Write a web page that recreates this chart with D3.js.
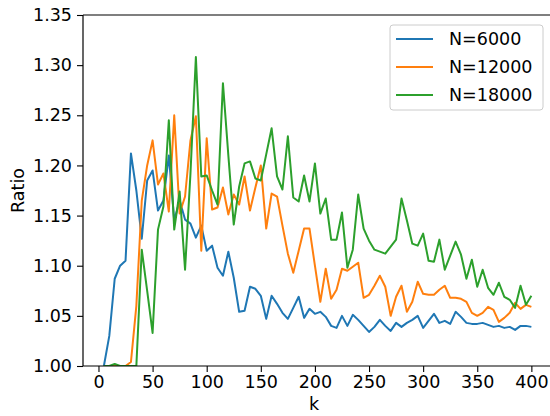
<!DOCTYPE html>
<html>
<head>
<meta charset="utf-8">
<script src="https://cdn.jsdelivr.net/npm/d3@7"></script>
<style>
  body { margin: 0; background: #fff; }
  svg { font-family: "DejaVu Sans", sans-serif; }
</style>
</head>
<body>
<svg id="chart" width="550" height="416"></svg>
<script>
// k values 5..400 step 5
const ks = [5,10,15,20,25,30,35,40,45,50,55,60,65,70,75,80,85,90,95,100,
  105,110,115,120,125,130,135,140,145,150,155,160,165,170,175,180,185,190,195,200,
  205,210,215,220,225,230,235,240,245,250,255,260,265,270,275,280,285,290,295,300,
  305,310,315,320,325,330,335,340,345,350,355,360,365,370,375,380,385,390,395,400];

const n6000 = [1.000,1.030,1.087,1.100,1.105,1.212,1.175,1.127,1.185,1.195,
  1.155,1.165,1.210,1.145,1.165,1.146,1.142,1.128,1.140,1.115,
  1.120,1.098,1.090,1.114,1.088,1.054,1.055,1.079,1.077,1.070,
  1.047,1.070,1.062,1.053,1.047,1.058,1.069,1.048,1.057,1.052,
  1.054,1.049,1.040,1.038,1.050,1.040,1.051,1.046,1.040,1.034,
  1.039,1.046,1.040,1.035,1.043,1.039,1.043,1.046,1.050,1.038,
  1.045,1.052,1.043,1.045,1.042,1.054,1.049,1.043,1.042,1.042,
  1.043,1.041,1.039,1.040,1.038,1.039,1.036,1.040,1.040,1.039];

const n12000 = [1.000,1.000,1.000,1.000,1.000,1.004,1.060,1.165,1.200,1.225,
  1.181,1.192,1.154,1.250,1.152,1.169,1.225,1.249,1.115,1.227,
  1.156,1.158,1.178,1.151,1.171,1.161,1.189,1.155,1.178,1.200,
  1.137,1.172,1.169,1.140,1.112,1.093,1.115,1.137,1.137,1.100,
  1.064,1.097,1.067,1.076,1.097,1.095,1.099,1.103,1.068,1.071,
  1.080,1.090,1.079,1.050,1.069,1.080,1.054,1.064,1.084,1.072,
  1.071,1.071,1.076,1.080,1.068,1.068,1.067,1.064,1.053,1.050,
  1.053,1.059,1.056,1.044,1.048,1.053,1.063,1.057,1.061,1.059];

const n18000 = [1.000,1.000,1.002,1.000,1.000,1.000,1.000,1.116,1.075,1.033,
  1.136,1.159,1.245,1.136,1.174,1.096,1.192,1.308,1.189,1.190,
  1.175,1.161,1.282,1.210,1.141,1.179,1.202,1.204,1.187,1.185,
  1.211,1.237,1.189,1.176,1.229,1.168,1.164,1.190,1.164,1.202,
  1.152,1.167,1.126,1.126,1.153,1.098,1.116,1.171,1.137,1.125,
  1.116,1.114,1.112,1.119,1.126,1.167,1.145,1.122,1.120,1.132,
  1.105,1.104,1.126,1.096,1.110,1.124,1.111,1.087,1.106,1.079,
  1.096,1.078,1.071,1.083,1.069,1.066,1.058,1.080,1.061,1.070];

const seriesNames = ["N=6000", "N=12000", "N=18000"];
const seriesColors = ["#1f77b4", "#ff7f0e", "#2ca02c"];
const xTicks = [0, 50, 100, 150, 200, 250, 300, 350, 400];
const yTicks = [1.00, 1.05, 1.10, 1.15, 1.20, 1.25, 1.30, 1.35];

const margins = { left: 83, top: 15, right: 545, bottom: 366 };
const fontSize = 17.5;

const svg = d3.select("#chart");

const x = d3.scaleLinear().domain([-14.3, 412.6]).range([margins.left, margins.right]);
const y = d3.scaleLinear().domain([1.0, 1.35]).range([margins.bottom, margins.top]);

// clip so lines stay inside the axes
svg.append("clipPath").attr("id", "plot-clip")
  .append("rect")
  .attr("x", margins.left).attr("y", margins.top)
  .attr("width", 550 - margins.left)
  .attr("height", margins.bottom - margins.top);

// lines
const line = d3.line().x((d) => x(d[0])).y((d) => y(d[1]));
const allSeries = [n6000, n12000, n18000];
svg.append("g").attr("clip-path", "url(#plot-clip)")
  .selectAll("path")
  .data(allSeries)
  .join("path")
  .attr("d", (vals) => line(ks.map((k, i) => [k, vals[i]])))
  .attr("fill", "none")
  .attr("stroke", (d, i) => seriesColors[i])
  .attr("stroke-width", 2)
  .attr("stroke-linejoin", "round");

// axes
const xAxis = svg.append("g")
  .attr("transform", `translate(0, ${margins.bottom})`)
  .call(d3.axisBottom(x).tickValues(xTicks).tickSize(6).tickPadding(4).tickFormat(d3.format("d")));

const yAxis = svg.append("g")
  .attr("transform", `translate(${margins.left}, 0)`)
  .call(d3.axisLeft(y).tickValues(yTicks).tickSize(6).tickPadding(5).tickFormat(d3.format(".2f")));

[xAxis, yAxis].forEach((g) => {
  g.select(".domain").remove();
  g.selectAll(".tick line").attr("stroke", "#000").attr("stroke-width", 1.1);
  g.selectAll(".tick text")
    .attr("fill", "#000")
    .style("font-size", fontSize + "px")
    .style("font-family", "DejaVu Sans, sans-serif");
});

// frame: the right spine falls just outside the picture
const frame = svg.append("g")
  .attr("stroke", "#000")
  .attr("stroke-width", 1.2);
frame.append("line")
  .attr("x1", margins.left).attr("x2", 550)
  .attr("y1", margins.top).attr("y2", margins.top);
frame.append("line")
  .attr("x1", margins.left).attr("x2", 550)
  .attr("y1", margins.bottom).attr("y2", margins.bottom);
frame.append("line")
  .attr("x1", margins.left).attr("x2", margins.left)
  .attr("y1", margins.top).attr("y2", margins.bottom);

// axis labels
svg.append("text")
  .attr("x", (margins.left + margins.right) / 2)
  .attr("y", 410)
  .attr("text-anchor", "middle")
  .style("font-size", fontSize + "px")
  .text("k");

svg.append("text")
  .attr("transform", `translate(24, ${(margins.top + margins.bottom) / 2})rotate(-90)`)
  .attr("text-anchor", "middle")
  .style("font-size", fontSize + "px")
  .text("Ratio");

// legend
const legend = svg.append("g").attr("transform", "translate(390, 25)");
legend.append("rect")
  .attr("width", 153).attr("height", 85)
  .attr("rx", 3)
  .attr("fill", "#fff").attr("fill-opacity", 0.8)
  .attr("stroke", "#ccc").attr("stroke-width", 1);

const items = legend.selectAll("g.item")
  .data(seriesNames)
  .join("g")
  .attr("class", "item")
  .attr("transform", (d, i) => `translate(0, ${14 + i * 28})`);

items.append("line")
  .attr("x1", 6).attr("x2", 43)
  .attr("stroke", (d, i) => seriesColors[i])
  .attr("stroke-width", 2);

items.append("text")
  .attr("x", 59)
  .attr("dy", "0.35em")
  .style("font-size", fontSize + "px")
  .text((d) => d);
</script>
</body>
</html>
